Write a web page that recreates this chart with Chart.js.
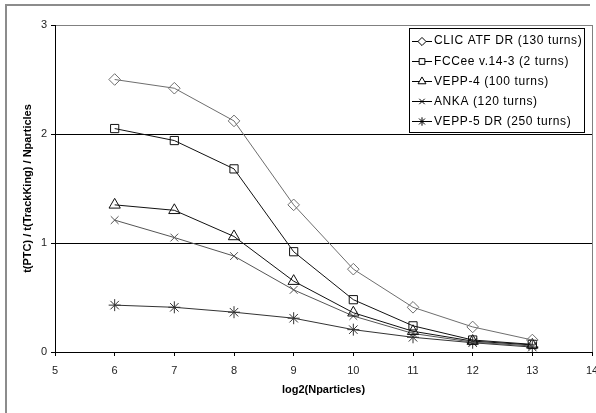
<!DOCTYPE html>
<html>
<head>
<meta charset="utf-8">
<script src="https://cdn.jsdelivr.net/npm/chart.js@4"></script>
<style>
html,body{margin:0;padding:0;background:#fff;}
#wrap{position:relative;width:596px;height:413px;overflow:hidden;}
canvas{display:block;}
</style>
</head>
<body>
<div id="wrap"><canvas id="c" width="596" height="413"></canvas></div>
<script>
// ---- data ----
const xValues = [6, 7, 8, 9, 10, 11, 12, 13];
const seriesNames = ["CLIC ATF DR (130 turns)", "FCCee v.14-3 (2 turns)", "VEPP-4 (100 turns)", "ANKA (120 turns)", "VEPP-5 DR (250 turns)"];
const clicValues  = [2.50, 2.42, 2.12, 1.35, 0.76, 0.41, 0.23, 0.11];
const fccValues   = [2.05, 1.94, 1.68, 0.92, 0.48, 0.24, 0.11, 0.07];
const vepp4Values = [1.35, 1.30, 1.06, 0.65, 0.36, 0.19, 0.10, 0.065];
const ankaValues  = [1.21, 1.05, 0.88, 0.57, 0.33, 0.17, 0.09, 0.055];
const vepp5Values = [0.43, 0.41, 0.365, 0.31, 0.205, 0.135, 0.085, 0.045];
const xTicks = [5, 6, 7, 8, 9, 10, 11, 12, 13, 14];
const yTicks = [0, 1, 2, 3];
const xTitle = "log2(Nparticles)";
const yTitle = "t(PTC) / t(TrackKing) / Nparticles";

const styles = [
  {color: '#6e6e6e', pointStyle: 'rectRot', radius: 5.8},
  {color: '#111111', pointStyle: 'rect', radius: 5.8},
  {color: '#111111', pointStyle: 'triangle', radius: 6.5},
  {color: '#555555', pointStyle: 'crossRot', radius: 5.5},
  {color: '#333333', pointStyle: 'star', radius: 6}
];
const allValues = [clicValues, fccValues, vepp4Values, ankaValues, vepp5Values];

const datasets = allValues.map((vals, i) => ({
  label: seriesNames[i],
  data: vals.map((v, j) => ({x: xValues[j], y: v})),
  showLine: true,
  borderColor: styles[i].color,
  borderWidth: 1,
  pointStyle: styles[i].pointStyle,
  pointRadius: styles[i].radius,
  pointBorderColor: styles[i].color,
  pointBackgroundColor: 'rgba(0,0,0,0)',
  pointBorderWidth: 1,
  tension: 0
}));

const FONT = '"Liberation Sans", Arial, sans-serif';
const zeroPad = function () { return {left: 0, top: 0, right: 0, bottom: 0}; };

const framePlugin = {
  id: 'frame',
  beforeDraw(chart) {
    const ctx = chart.ctx;
    ctx.save();
    ctx.fillStyle = '#ffffff';
    ctx.fillRect(0, 0, chart.width, chart.height);
    ctx.fillStyle = '#8c8c8c';
    ctx.fillRect(5, 4, 2, 409);
    ctx.fillRect(5, 4, 585, 2);
    ctx.restore();
  }
};

const legendPlugin = {
  id: 'customLegend',
  afterDraw(chart) {
    const ctx = chart.ctx;
    ctx.save();
    const bx = 409.5, by = 28.5, bw = 175, bh = 104;
    ctx.fillStyle = '#fff';
    ctx.fillRect(bx, by, bw, bh);
    ctx.strokeStyle = '#000';
    ctx.lineWidth = 1;
    ctx.strokeRect(bx, by, bw, bh);
    ctx.font = '12px ' + FONT;
    if ('letterSpacing' in ctx) ctx.letterSpacing = '0.6px';
    ctx.textBaseline = 'middle';
    ctx.textAlign = 'left';
    seriesNames.forEach((name, i) => {
      const y = 40.5 + i * 20.2;
      const st = styles[i];
      ctx.strokeStyle = '#000';
      ctx.beginPath();
      ctx.moveTo(412, Math.round(y) + 0.5);
      ctx.lineTo(432, Math.round(y) + 0.5);
      ctx.stroke();
      ctx.fillStyle = '#fff';
      ctx.strokeStyle = '#000';
      Chart.helpers.drawPoint(ctx, {pointStyle: st.pointStyle, radius: st.radius * 0.7, rotation: 0, borderWidth: 1}, 422, Math.round(y) + 0.5);
      ctx.fillStyle = '#000';
      ctx.fillText(name, 434, y + 0.5);
    });
    ctx.restore();
  }
};

new Chart(document.getElementById('c'), {
  type: 'scatter',
  data: {datasets},
  options: {
    responsive: false,
    animation: false,
    devicePixelRatio: 1,
    layout: {autoPadding: false, padding: {top: 25, right: 4, left: 0, bottom: 0}},
    plugins: {legend: {display: false}, tooltip: {enabled: false}},
    scales: {
      x: {
        type: 'linear',
        min: 5, max: 14,
        afterBuildTicks(scale) { scale.ticks = xTicks.map(v => ({value: v})); },
        afterFit(scale) { scale.height = 61; scale.paddingLeft = 0; scale.paddingRight = 0; scale.getPadding = zeroPad; },
        grid: {
          drawOnChartArea: true,
          color: c => (c.tick && c.tick.value === 14) ? '#808080' : 'rgba(0,0,0,0)',
          tickColor: '#000',
          tickLength: 4,
          lineWidth: 1
        },
        border: {display: true, color: '#000', width: 1},
        ticks: {color: '#222', font: {family: FONT, size: 11}, padding: 8, maxRotation: 0, autoSkip: false},
        title: {display: true, text: xTitle, color: '#000', font: {family: FONT, size: 11, weight: 'bold'}, padding: {top: 0, bottom: 16}}
      },
      y: {
        type: 'linear',
        min: 0, max: 3,
        afterBuildTicks(scale) { scale.ticks = yTicks.map(v => ({value: v})); },
        afterFit(scale) { scale.width = 55; scale.paddingTop = 0; scale.paddingBottom = 0; scale.getPadding = zeroPad; },
        grid: {
          drawOnChartArea: true,
          color: c => {
            const v = c.tick && c.tick.value;
            if (v === 3) return '#808080';
            if (v === 0) return 'rgba(0,0,0,0)';
            return '#000';
          },
          tickColor: '#000',
          tickLength: 4,
          lineWidth: 1
        },
        border: {display: true, color: '#000', width: 1},
        ticks: {color: '#222', font: {family: FONT, size: 11}, padding: 4},
        title: {display: true, text: yTitle, color: '#000', font: {family: FONT, size: 11, weight: 'bold'}, padding: {top: 21, bottom: 0}}
      }
    }
  },
  plugins: [framePlugin, legendPlugin]
});
</script>
</body>
</html>
